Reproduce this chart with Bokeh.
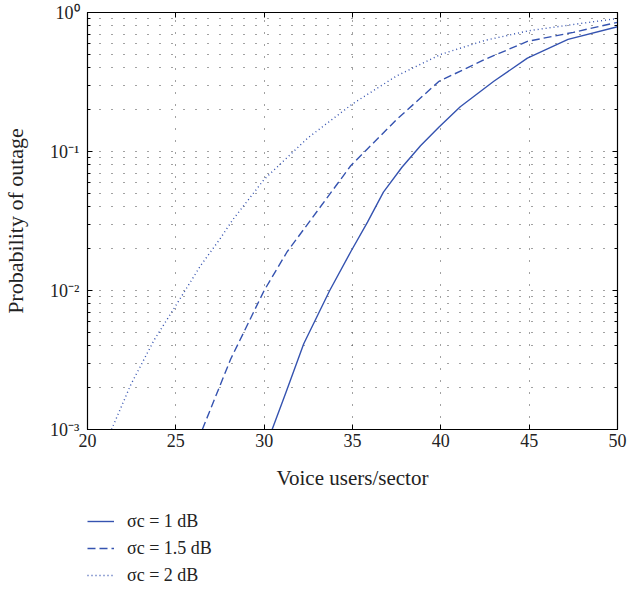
from bokeh.plotting import figure
from bokeh.layouts import column
from bokeh.models import (FixedTicker, LinearAxis, LogAxis, Legend, LegendItem,
                          Range1d)
from bokeh.embed import file_html
from bokeh.resources import INLINE

# ---- data ----
x_s1 = [30.45, 31.2, 32.24, 33.71, 34.9, 35.85, 36.75, 37.8, 38.85, 39.9, 41.1, 43.0, 44.9, 47.2, 50.0]
y_s1 = [0.001, 0.0018, 0.00414, 0.01, 0.019, 0.031, 0.051, 0.077, 0.11, 0.15, 0.21, 0.32, 0.47, 0.64, 0.79]

x_s15 = [26.5, 28.1, 30.0, 31.3, 32.7, 34.9, 37.5, 39.9, 42.5, 44.9, 47.5, 50.0]
y_s15 = [0.001, 0.0032, 0.01, 0.019, 0.033, 0.079, 0.17, 0.32, 0.46, 0.62, 0.72, 0.85]

x_s2 = [21.36, 22.45, 23.77, 25.0, 26.4, 27.5, 28.2, 30.0, 32.5, 35.0, 37.5, 40.0, 42.5, 45.0, 47.5, 50.0]
y_s2 = [0.001, 0.0021, 0.0044, 0.0078, 0.0151, 0.0235, 0.032, 0.063, 0.126, 0.22, 0.35, 0.5, 0.63, 0.74, 0.82, 0.905]

x_ticks = [20, 25, 30, 35, 40, 45, 50]
y_ticks = [0.001, 0.01, 0.1, 1.0]
y_tick_labels = ["10\u207b\u00b3", "10\u207b\u00b2", "10\u207b\u00b9", "10\u2070"]
legend_labels = ["\u03c3c = 1 dB", "\u03c3c = 1.5 dB", "\u03c3c = 2 dB"]

FONT = "Liberation Serif"
LINE = "#3553b0"
GRID = "#444444"
STYLES = [dict(), dict(line_dash="8 4"), dict(line_dash="1 3")]
SERIES = [(x_s1, y_s1), (x_s15, y_s15), (x_s2, y_s2)]

minor_y = [m * d for d in (0.001, 0.01, 0.1) for m in range(2, 10)]

p = figure(frame_width=530, frame_height=417,
           x_range=Range1d(20, 50), y_range=Range1d(1e-3, 1),
           y_axis_type="log", output_backend="svg", toolbar_location=None,
           min_border_left=87, min_border_right=10, min_border_top=12,
           min_border_bottom=81)
p.outline_line_color = "black"
p.outline_line_width = 1.2
p.background_fill_color = "white"
p.border_fill_color = "white"

xt = FixedTicker(ticks=x_ticks)
yt = FixedTicker(ticks=y_ticks, minor_ticks=minor_y)

xa = p.xaxis[0]
xa.ticker = xt
xa.axis_label = "Voice users/sector"
ya = p.yaxis[0]
ya.ticker = yt
ya.axis_label = "Probability of outage"
ya.major_label_overrides = {v: s for v, s in zip(y_ticks, y_tick_labels)}

for ax in (xa, ya):
    ax.axis_label_text_font = FONT
    ax.axis_label_text_font_style = "normal"
    ax.axis_label_text_color = "#222222"
    ax.major_label_text_font = FONT
    ax.major_label_text_font_size = "18px"
    ax.major_label_text_color = "#222222"
    ax.major_tick_in = 5
    ax.major_tick_out = 0
    ax.minor_tick_in = 3
    ax.minor_tick_out = 0
    ax.axis_line_color = "black"
    ax.major_tick_line_color = "black"
    ax.minor_tick_line_color = "black"
xa.axis_label_text_font_size = "21px"
ya.axis_label_text_font_size = "22px"
xa.major_label_standoff = 4
xa.axis_label_standoff = 16
ya.major_label_standoff = 8
ya.axis_label_standoff = 19
xa.minor_tick_line_color = None

# mirrored ticks on top and right
top = LinearAxis(ticker=xt, major_label_text_font_size="1px",
                 major_label_text_color=None, major_tick_in=5,
                 major_tick_out=0, minor_tick_line_color=None,
                 major_label_standoff=0)
right = LogAxis(ticker=yt, major_label_text_font_size="1px",
                major_label_text_color=None, major_tick_in=5,
                major_tick_out=0, minor_tick_in=3, minor_tick_out=0,
                major_label_standoff=0)
p.add_layout(top, "above")
p.add_layout(right, "right")

for g in (p.xgrid[0], p.ygrid[0]):
    g.grid_line_color = GRID
    g.grid_line_dash = "1 11"
    g.grid_line_width = 1
p.xgrid[0].ticker = xt
p.ygrid[0].ticker = yt
p.ygrid[0].minor_grid_line_color = GRID
p.ygrid[0].minor_grid_line_dash = "1 11"

for (xs, ys), st in zip(SERIES, STYLES):
    p.line(xs, ys, line_color=LINE, line_width=1.4, **st)

# legend strip below the chart (its lines fall outside its own x range)
q = figure(frame_width=530, frame_height=84, x_range=Range1d(0, 1),
           y_range=Range1d(0, 1), x_axis_location=None, y_axis_location=None,
           output_backend="svg", toolbar_location=None,
           min_border_left=87, min_border_right=10, min_border_top=0,
           min_border_bottom=0)
q.outline_line_color = None
q.grid.grid_line_color = None
q.background_fill_color = "white"
q.border_fill_color = "white"
rs = [q.line(xs, ys, line_color=LINE, line_width=1.4, **st)
      for (xs, ys), st in zip(SERIES, STYLES)]

legend = Legend(items=[LegendItem(label=l, renderers=[r])
                       for l, r in zip(legend_labels, rs)],
                location="top_left", padding=8, margin=0, spacing=5,
                glyph_width=27, glyph_height=22, label_height=22,
                label_standoff=13, border_line_color=None,
                background_fill_alpha=0,
                label_text_font=FONT, label_text_font_size="18px",
                label_text_color="#222222")
q.add_layout(legend, "center")

page = column(p, q, spacing=0)
open("out.html", "w").write(file_html(page, INLINE))
